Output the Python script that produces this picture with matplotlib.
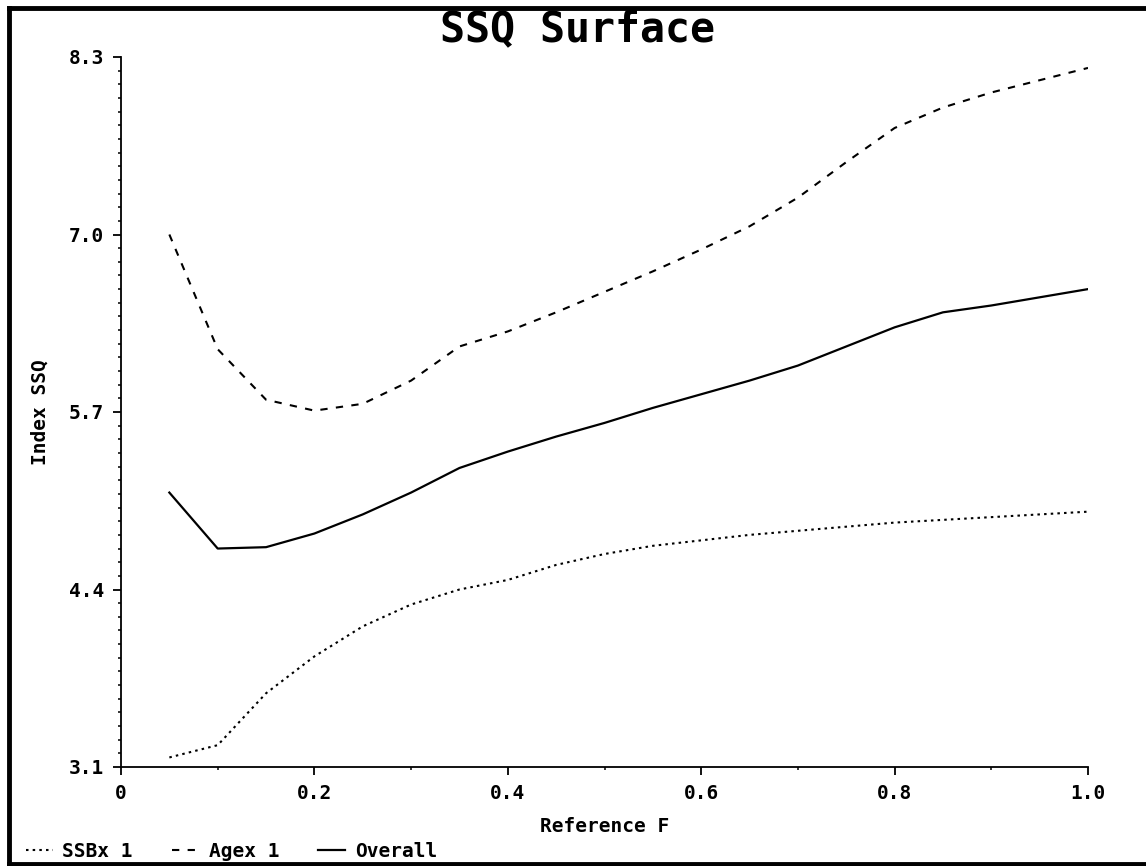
import matplotlib
matplotlib.use("Agg")
import matplotlib.pyplot as plt
from matplotlib.lines import Line2D
from matplotlib.ticker import MultipleLocator, FixedLocator

# Reference fishing mortality grid
ref_f = [0.05, 0.10, 0.15, 0.20, 0.25, 0.30, 0.35, 0.40, 0.45, 0.50,
         0.55, 0.60, 0.65, 0.70, 0.75, 0.80, 0.85, 0.90, 0.95, 1.00]

# Index sum-of-squares components
ssbx_1 = [3.17, 3.26, 3.64, 3.91, 4.13, 4.29, 4.40, 4.47, 4.58, 4.66,
          4.72, 4.76, 4.80, 4.83, 4.86, 4.89, 4.91, 4.93, 4.95, 4.97]
agex_1 = [7.00, 6.16, 5.79, 5.71, 5.76, 5.93, 6.18, 6.29, 6.43, 6.58,
          6.73, 6.89, 7.06, 7.27, 7.53, 7.78, 7.93, 8.04, 8.13, 8.22]
overall = [5.11, 4.70, 4.71, 4.81, 4.95, 5.11, 5.29, 5.41, 5.52, 5.62,
           5.73, 5.83, 5.93, 6.04, 6.18, 6.32, 6.43, 6.48, 6.54, 6.60]

x_ticks = [0.0, 0.2, 0.4, 0.6, 0.8, 1.0]
x_tick_labels = ["0", "0.2", "0.4", "0.6", "0.8", "1.0"]
y_ticks = [3.1, 4.4, 5.7, 7.0, 8.3]
y_tick_labels = ["3.1", "4.4", "5.7", "7.0", "8.3"]

FONT = "DejaVu Sans Mono"
LABEL_SIZE = 14

fig = plt.figure(figsize=(11.46, 8.66), dpi=100)
fig.patch.set_facecolor("white")
ax = fig.add_axes([121 / 1146, 1 - 767 / 866, (1088 - 121) / 1146, (767 - 57) / 866])

ax.plot(ref_f, ssbx_1, color="black", lw=1.5, linestyle=(0, (1.2, 2.0)), label="SSBx 1")
ax.plot(ref_f, agex_1, color="black", lw=1.5, linestyle=(0, (3.5, 4.0)), label="Agex 1")
ax.plot(ref_f, overall, color="black", lw=1.6, linestyle="-", label="Overall")

ax.set_xlim(0, 1.0)
ax.set_ylim(3.1, 8.3)
ax.xaxis.set_major_locator(FixedLocator(x_ticks))
ax.xaxis.set_minor_locator(MultipleLocator(0.1))
ax.yaxis.set_major_locator(FixedLocator(y_ticks))
ax.yaxis.set_minor_locator(MultipleLocator(0.1))
ax.set_xticklabels(x_tick_labels)
ax.set_yticklabels(y_tick_labels)

for side in ("top", "right"):
    ax.spines[side].set_visible(False)
for side in ("left", "bottom"):
    ax.spines[side].set_linewidth(1.3)

ax.tick_params(which="major", direction="out", length=6, width=1.3, pad=6,
               labelsize=LABEL_SIZE)
ax.tick_params(which="minor", direction="out", length=2.5, width=1.1)
for lbl in ax.get_xticklabels() + ax.get_yticklabels():
    lbl.set_fontfamily(FONT)
    lbl.set_fontweight("bold")

ax.set_xlabel("Reference F", fontsize=LABEL_SIZE, fontfamily=FONT, fontweight="bold", labelpad=10)
ax.set_ylabel("Index SSQ", fontsize=LABEL_SIZE, fontfamily=FONT, fontweight="bold", labelpad=14)

fig.text(0.504, 0.966, "SSQ Surface", ha="center", va="center", fontsize=30,
         fontfamily=FONT, fontweight="bold")

leg = fig.legend(loc="lower left", bbox_to_anchor=(0.007, -0.014), ncol=3, frameon=False,
                 prop={"family": FONT, "weight": "bold", "size": LABEL_SIZE},
                 handlelength=1.4, handletextpad=0.5, columnspacing=2.0)

# Page frame on the left, top and bottom edges
frame_kw = dict(color="black", lw=3.5, solid_capstyle="projecting")
fig.add_artist(Line2D([9 / 1146, 9 / 1146], [2 / 866, 1 - 8 / 866], transform=fig.transFigure, **frame_kw))
fig.add_artist(Line2D([9 / 1146, 1.0], [1 - 8 / 866, 1 - 8 / 866], transform=fig.transFigure, **frame_kw))
fig.add_artist(Line2D([9 / 1146, 1.0], [2 / 866, 2 / 866], transform=fig.transFigure, **frame_kw))

fig.savefig("out.png", dpi=100, facecolor="white")
